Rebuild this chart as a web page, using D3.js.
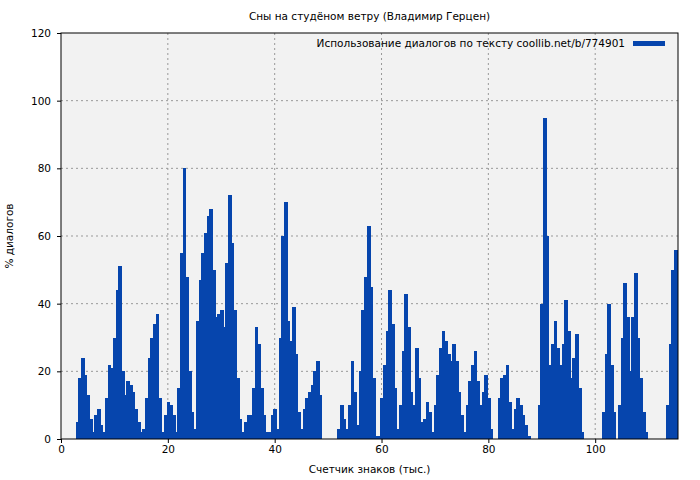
<!DOCTYPE html>
<html>
<head>
<meta charset="utf-8">
<script src="https://cdn.jsdelivr.net/npm/d3@7"></script>
<style>
  body { margin: 0; background: #fff; }
  svg { font-family: "DejaVu Sans", sans-serif; }
</style>
</head>
<body>
<svg id="chart" width="700" height="480"></svg>
<script>
// values sampled every 0.5 thousand chars, starting at 3.0
const startX = 3.0;
const stepX = 0.5;
const values = [
  5, 18, 24, 19, 13, 6, 2, 7, 9, 4,            // 3.0 - 7.5
  2, 12, 22, 21, 30, 44, 51, 20, 13, 17,       // 8.0 - 12.5
  16, 14, 9, 5, 2, 3, 12, 24, 30, 34,          // 13.0 - 17.5
  37, 12, 2, 7, 11, 10, 7, 2, 15, 55,          // 18.0 - 22.5
  80, 48, 20, 8, 3, 35, 47, 55, 61, 66,        // 23.0 - 27.5
  68, 50, 36, 37, 38, 33, 52, 72, 58, 38,      // 28.0 - 32.5
  18, 6, 2, 5, 7, 7, 15, 33, 28, 15,           // 33.0 - 37.5
  7, 2, 2, 7, 9, 3, 30, 60, 70, 35,            // 38.0 - 42.5
  29, 39, 25, 8, 3, 9, 12, 14, 16, 20,         // 43.0 - 47.5
  23, 13, 0, 0, 0, 0, 0, 0, 3, 10,             // 48.0 - 52.5
  6, 3, 10, 23, 14, 4, 20, 38, 48, 63,         // 53.0 - 57.5
  45, 18, 1, 1, 12, 22, 32, 44, 34, 15,        // 58.0 - 62.5
  3, 10, 26, 43, 33, 14, 10, 27, 18, 5,        // 63.0 - 67.5
  6, 11, 8, 2, 10, 19, 27, 32, 29, 25,         // 68.0 - 72.5
  23, 28, 23, 14, 7, 2, 10, 17, 22, 26,        // 73.0 - 77.5
  17, 10, 14, 19, 12, 3, 0, 0, 12, 18,         // 78.0 - 82.5
  19, 22, 11, 3, 9, 12, 10, 7, 4, 1,           // 83.0 - 87.5
  0, 0, 0, 10, 40, 95, 60, 22, 28, 35,         // 88.0 - 92.5
  27, 22, 28, 41, 32, 18, 24, 31, 15, 2,       // 93.0 - 97.5
  0, 0, 0, 0, 0, 0, 0, 8, 25, 40,              // 98.0 - 102.5
  22, 8, 0, 10, 30, 46, 36, 20, 36, 49,        // 103.0 - 107.5
  30, 18, 8, 2, 0, 0, 0, 0, 0, 0,              // 108.0 - 112.5
  0, 10, 28, 50, 56                            // 113.0 - 115.0
];
const xTicks = [0, 20, 40, 60, 80, 100];
const yTicks = [0, 20, 40, 60, 80, 100, 120];
const title = "Сны на студёном ветру (Владимир Герцен)";
const legendLabel = "Использование диалогов по тексту coollib.net/b/774901";
const xLabel = "Счетчик знаков (тыс.)";
const yLabel = "% диалогов";

const W = 700, H = 480;
const margin = { top: 33, right: 22, bottom: 41, left: 61 };
const color = "#0645ad";
const fs = 10.5;

const svg = d3.select("#chart");
const g = svg.append("g").attr("transform", `translate(${margin.left},${margin.top})`);
const iw = W - margin.left - margin.right;
const ih = H - margin.top - margin.bottom;

const x = d3.scaleLinear().domain([0, 115.5]).range([0, iw]);
const y = d3.scaleLinear().domain([0, 120]).range([ih, 0]);

g.append("rect").attr("width", iw).attr("height", ih).attr("fill", "#f2f2f2");

// grid
g.append("g").selectAll("line").data(xTicks.slice(1)).join("line")
  .attr("x1", d => x(d)).attr("x2", d => x(d)).attr("y1", 0).attr("y2", ih)
  .attr("stroke", "#999").attr("stroke-dasharray", "2,3");
g.append("g").selectAll("line").data(yTicks.slice(1, -1)).join("line")
  .attr("x1", 0).attr("x2", iw).attr("y1", d => y(d)).attr("y2", d => y(d))
  .attr("stroke", "#999").attr("stroke-dasharray", "2,3");

// bars
const data = values.map((v, i) => ({ x: startX + i * stepX, v }));
g.append("g").attr("shape-rendering", "crispEdges")
  .selectAll("rect").data(data.filter(d => d.v > 0)).join("rect")
  .attr("x", d => x(d.x - stepX / 2))
  .attr("width", x(stepX) - x(0) + 1)
  .attr("y", d => y(d.v))
  .attr("height", d => ih - y(d.v))
  .attr("fill", color);

// frame
g.append("rect").attr("width", iw).attr("height", ih)
  .attr("fill", "none").attr("stroke", "#000");

const xa = g.append("g").attr("transform", `translate(0,${ih})`)
  .call(d3.axisBottom(x).tickValues(xTicks).tickSize(4).tickSizeOuter(0));
const ya = g.append("g")
  .call(d3.axisLeft(y).tickValues(yTicks).tickSize(4).tickSizeOuter(0));
[xa, ya].forEach(a => {
  a.select(".domain").remove();
  a.selectAll("text").attr("font-size", fs).attr("fill", "#000")
    .attr("font-family", "DejaVu Sans, sans-serif");
});
ya.selectAll("text").attr("dx", "-3");

svg.append("text").attr("x", margin.left + iw / 2).attr("y", 20)
  .attr("text-anchor", "middle").attr("font-size", fs).text(title);
svg.append("text").attr("x", margin.left + iw / 2).attr("y", 473)
  .attr("text-anchor", "middle").attr("font-size", fs).text(xLabel);
svg.append("text").attr("transform", `translate(13,${margin.top + ih / 2}) rotate(-90)`)
  .attr("text-anchor", "middle").attr("font-size", fs).text(yLabel);

// legend
svg.append("text").attr("x", 625).attr("y", 47)
  .attr("text-anchor", "end").attr("font-size", fs).text(legendLabel);
svg.append("rect").attr("x", 633).attr("y", 41).attr("width", 32).attr("height", 5)
  .attr("fill", color);
</script>
</body>
</html>
